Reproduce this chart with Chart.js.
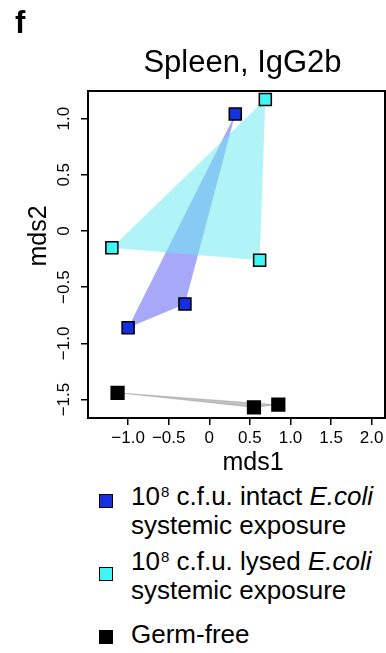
<!DOCTYPE html>
<html>
<head>
<meta charset="utf-8">
<script src="https://cdn.jsdelivr.net/npm/chart.js@4.4.0/dist/chart.umd.min.js"></script>
<style>
    html, body { margin: 0; padding: 0; background: #fff; }
    #wrap { position: relative; width: 386px; height: 653px; overflow: hidden;
        font-family: "Liberation Sans", Arial, sans-serif; color: #000; }
    #chart { position: absolute; left: 0; top: 0; }
    .txt { position: absolute; white-space: nowrap; }
    .key { position: absolute; box-sizing: border-box; width: 14px; height: 14px; border: 1.5px solid #000; }
    .leg { font-size: 26px; line-height: 29px; left: 131px; }
    .leg sup { font-size: 15px; line-height: 0; vertical-align: baseline; position: relative; top: -8px; margin-left: 1px; }
</style>
</head>
<body>
<div id="wrap">
    <canvas id="chart" width="386" height="470"></canvas>
    <div class="txt" style="left:15px; top:7px; font-size:31px; line-height:31px; font-weight:bold;">f</div>
    <div class="txt" style="left:0; width:485px; text-align:center; top:46px; font-size:31px; line-height:31px;">Spleen, IgG2b</div>
    <div class="txt" style="left:0; width:506px; text-align:center; top:448px; font-size:25px; line-height:26px;">mds1</div>
    <div class="txt" style="left:-13px; width:100px; text-align:center; top:223px; font-size:25px; line-height:26px; transform:rotate(-90deg);">mds2</div>

    <span class="key" style="left:99px; top:494px; background:#1530e0;"></span>
    <div class="txt leg" style="top:482px;">10<sup>8</sup> c.f.u. intact <i>E.coli</i><br>systemic exposure</div>
    <span class="key" style="left:99px; top:567px; background:#3ff5f5;"></span>
    <div class="txt leg" style="top:547px;">10<sup>8</sup> c.f.u. lysed <i>E.coli</i><br>systemic exposure</div>
    <span class="key" style="left:99px; top:630px; background:#000;"></span>
    <div class="txt leg" style="top:620px;">Germ-free</div>
</div>
<script>
// mds coordinates
const intactX = [0.32, -0.30, -1.00];
const intactY = [1.04, -0.65, -0.86];
const lysedX = [0.69, -1.20, 0.62];
const lysedY = [1.17, -0.15, -0.26];
const germX = [-1.13, 0.55, 0.85];
const germY = [-1.44, -1.57, -1.545];

const xTicks = [-1.0, -0.5, 0, 0.5, 1.0, 1.5, 2.0];
const yTicks = [-1.5, -1.0, -0.5, 0, 0.5, 1.0];

function toPoints(xs, ys) {
    return xs.map((x, i) => ({ x: x, y: ys[i] }));
}

// closed polygon for the group hull
function toHull(xs, ys) {
    const pts = toPoints(xs, ys);
    pts.push(pts[0]);
    return pts;
}

function tickText(v) {
    if (v === 0) return "0";
    return v.toFixed(1).replace("-", "\u2212");
}

const boxPlugin = {
    id: "box",
    afterDatasetsDraw(chart) {
        const a = chart.chartArea;
        const ctx = chart.ctx;
        ctx.save();
        ctx.strokeStyle = "#000";
        ctx.lineWidth = 2;
        ctx.strokeRect(a.left, a.top, a.right - a.left, a.bottom - a.top);
        ctx.restore();
    },
};

function hullSet(xs, ys, color, order, border) {
    return {
        type: "line",
        data: toHull(xs, ys),
        showLine: true,
        fill: "shape",
        backgroundColor: color,
        borderColor: border || "rgba(0,0,0,0)",
        borderWidth: 1,
        pointRadius: 0,
        tension: 0,
        order: order,
    };
}

function pointSet(label, xs, ys, fill, radius) {
    return {
        label: label,
        data: toPoints(xs, ys),
        pointStyle: "rect",
        pointRadius: radius,
        pointBackgroundColor: fill,
        pointBorderColor: "#000",
        pointBorderWidth: 1.5,
        showLine: false,
        order: 0,
    };
}

const tickFont = { family: "'Liberation Sans', Arial, sans-serif", size: 17 };

function noPad(scale) {
    scale.paddingLeft = 0;
    scale.paddingRight = 0;
    scale.paddingTop = 0;
    scale.paddingBottom = 0;
}

new Chart(document.getElementById("chart"), {
    type: "scatter",
    data: {
        datasets: [
            pointSet("intact", intactX, intactY, "#1530e0", 8.5),
            pointSet("lysed", lysedX, lysedY, "#3ff5f5", 8.5),
            pointSet("germ-free", germX, germY, "#000", 9),
            hullSet(lysedX, lysedY, "rgba(109,235,242,0.54)", 1),
            hullSet(intactX, intactY, "rgba(62,62,240,0.45)", 2),
            hullSet(germX, germY, "rgba(0,0,0,0.25)", 3, "rgba(0,0,0,0.12)"),
        ],
    },
    options: {
        responsive: false,
        devicePixelRatio: 1,
        animation: false,
        layout: { autoPadding: false, padding: { top: 91, right: 1, left: 0, bottom: 0 } },
        plugins: {
            legend: { display: false },
            title: { display: false },
            tooltip: { enabled: false },
        },
        scales: {
            x: {
                type: "linear",
                min: -1.494,
                max: 2.164,
                afterBuildTicks: (scale) => { scale.ticks = xTicks.map((v) => ({ value: v })); },
                afterFit: (scale) => { scale.height = 52; noPad(scale); },
                grid: { drawOnChartArea: false, drawTicks: true, tickLength: 7, color: "#000", lineWidth: 1.5 },
                border: { display: false },
                ticks: {
                    autoSkip: false,
                    maxRotation: 0,
                    padding: 3,
                    color: "#000",
                    font: tickFont,
                    callback: (v) => tickText(v),
                },
            },
            y: {
                type: "linear",
                min: -1.664,
                max: 1.2456,
                afterBuildTicks: (scale) => { scale.ticks = yTicks.map((v) => ({ value: v })); },
                afterFit: (scale) => { scale.width = 88; noPad(scale); },
                grid: { drawOnChartArea: false, drawTicks: true, tickLength: 7, color: "#000", lineWidth: 1.5 },
                border: { display: false },
                ticks: {
                    autoSkip: false,
                    minRotation: 90,
                    maxRotation: 90,
                    crossAlign: "center",
                    padding: 0,
                    color: "#000",
                    font: tickFont,
                    callback: (v) => tickText(v),
                },
            },
        },
    },
    plugins: [boxPlugin],
});
</script>
</body>
</html>
